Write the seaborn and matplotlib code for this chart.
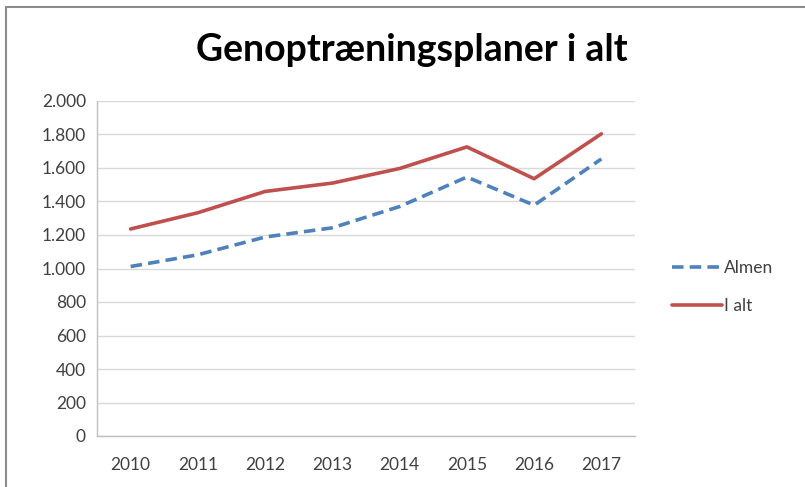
import pandas as pd
import seaborn as sns
import matplotlib.pyplot as plt
from matplotlib.lines import Line2D
from matplotlib.ticker import FuncFormatter

years = ["2010", "2011", "2012", "2013", "2014", "2015", "2016", "2017"]
almen = [1012, 1082, 1188, 1243, 1370, 1546, 1378, 1654]
i_alt = [1236, 1333, 1460, 1510, 1597, 1726, 1536, 1804]
series_names = ["Almen", "I alt"]

df = pd.DataFrame({
    "year": years * 2,
    "value": almen + i_alt,
    "serie": ["Almen"] * len(years) + ["I alt"] * len(years),
})

sns.set_theme(style="white")
plt.rcParams["font.family"] = ["Lato", "DejaVu Sans"]

fig = plt.figure(figsize=(8.05, 4.87), dpi=100)
ax = fig.add_axes([97 / 805, 51 / 487, 538 / 805, 335 / 487])

sns.lineplot(
    data=df, x="year", y="value", hue="serie", style="serie",
    hue_order=series_names, style_order=series_names,
    palette={"Almen": "#4F81BD", "I alt": "#C0504D"},
    dashes={"Almen": (3.2, 1.7), "I alt": ""},
    linewidth=2.6, sort=False, ax=ax,
)

ax.set_xlim(-0.5, len(years) - 0.5)
ax.set_ylim(0, 2000)
ax.set_yticks(range(0, 2001, 200))
ax.yaxis.set_major_formatter(FuncFormatter(lambda v, p: f"{int(v):,}".replace(",", ".")))
ax.grid(axis="y", color="#D9D9D9", linewidth=1)
ax.set_axisbelow(True)
for s in ["top", "right"]:
    ax.spines[s].set_visible(False)
for s in ["left", "bottom"]:
    ax.spines[s].set_color("#BFBFBF")
    ax.spines[s].set_linewidth(1)
ax.tick_params(axis="both", length=0, labelsize=12.5, colors="#404040")
ax.tick_params(axis="x", pad=15)
ax.tick_params(axis="y", pad=8)
ax.set_xlabel("")
ax.set_ylabel("")

leg = ax.legend(loc="center left", bbox_to_anchor=(1.04, 0.445), frameon=False,
                fontsize=12.5, handlelength=2.9, handletextpad=0.1, labelspacing=1.3)
for t in leg.get_texts():
    t.set_color("#404040")

fig.text(0.512, 0.897, "Genoptræningsplaner i alt", ha="center", va="center",
         fontsize=27, fontweight="bold", color="black")

# chart frame (top and left edges)
fig.add_artist(Line2D([6 / 805, 1], [1 - 7 / 487, 1 - 7 / 487], color="#8C8C8C", linewidth=1.5))
fig.add_artist(Line2D([6 / 805, 6 / 805], [0, 1 - 7 / 487], color="#8C8C8C", linewidth=1.5))

fig.savefig("out.png", dpi=100)
